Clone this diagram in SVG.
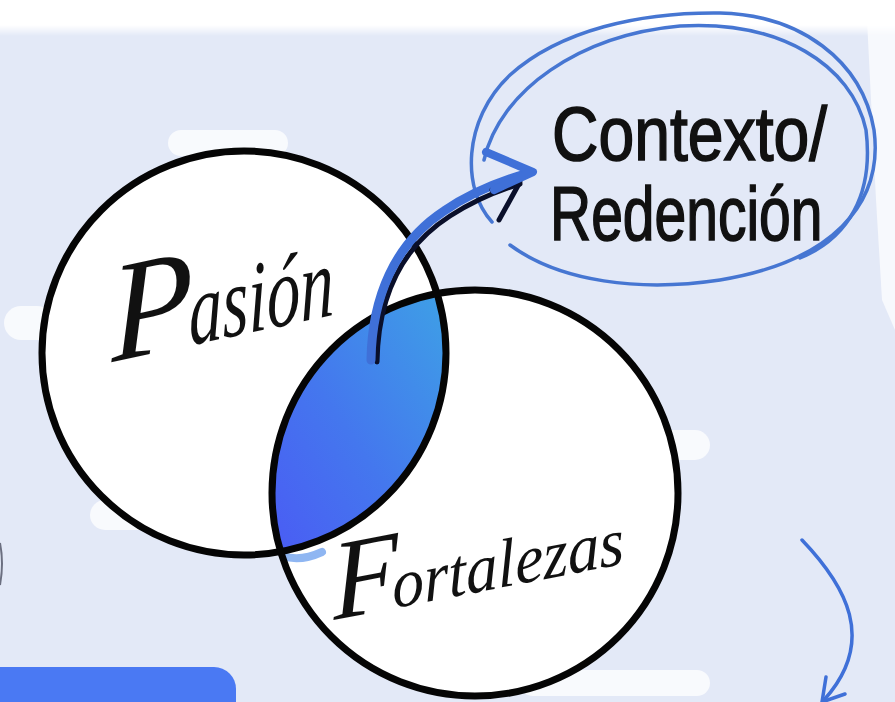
<svg xmlns="http://www.w3.org/2000/svg" width="895" height="702" viewBox="0 0 895 702">
  <defs>
    <linearGradient id="lensGrad" x1="1" y1="0" x2="0" y2="1">
      <stop offset="0" stop-color="#3ea0e6"/>
      <stop offset="0.55" stop-color="#4477ee"/>
      <stop offset="1" stop-color="#4a5cf4"/>
    </linearGradient>
    <linearGradient id="topFade" x1="0" y1="0" x2="0" y2="1">
      <stop offset="0" stop-color="#ffffff"/>
      <stop offset="0.7" stop-color="#ffffff"/>
      <stop offset="1" stop-color="#ffffff" stop-opacity="0"/>
    </linearGradient>
    <style>
      .ring { fill: none; stroke: #050505; stroke-width: 7; }
      .disc { fill: #ffffff; }
      .script { font-family: "Liberation Serif", "DejaVu Serif", serif; font-style: italic; fill: #111111; }
      .label { font-family: "Liberation Sans", Arial, sans-serif; fill: #111111; stroke: #111111; stroke-width: 1.6; font-size: 76px; }
      .loop { fill: none; stroke: #4676d2; stroke-width: 3.5; stroke-linecap: round; }
      .blueArrow { fill: none; stroke: #3f70d8; stroke-linecap: round; stroke-linejoin: round; }
      .shadow { fill: none; stroke: #0a0f2a; stroke-linecap: round; stroke-linejoin: round; }
      .blob { fill: #ffffff; opacity: 0.75; }
    </style>
  </defs>

  <!-- background -->
  <rect x="0" y="0" width="895" height="702" fill="#e3e9f7"/>
  <rect x="0" y="0" width="895" height="36" fill="url(#topFade)"/>
  <polygon points="866,0 895,0 895,330 882,300 876,200" fill="#ffffff" opacity="0.7"/>
  <!-- brush texture blobs -->
  <rect class="blob" x="4" y="306" width="50" height="34" rx="17"/>
  <rect class="blob" x="168" y="130" width="120" height="26" rx="13"/>
  <rect class="blob" x="640" y="430" width="70" height="30" rx="15"/>
  <rect class="blob" x="520" y="670" width="190" height="26" rx="13"/>
  <rect class="blob" x="90" y="500" width="120" height="30" rx="15"/>

  <!-- bottom-left blue bar -->
  <rect x="-30" y="667" width="266" height="70" rx="22" fill="#4a79f3"/>
  <!-- small mark at left edge -->
  <path d="M 0 543 Q 4 563 0 585" fill="none" stroke="#6b6f80" stroke-width="2"/>

  <!-- Node: Pasion -->
  <g id="node-pasion">
    <circle class="disc" cx="244" cy="353" r="202"/>
  </g>
  <!-- Node: Fortalezas -->
  <g id="node-fortalezas">
    <circle class="disc" cx="475" cy="493" r="203"/>
  </g>
  <!-- Intersection -->
  <g id="node-interseccion">
    <path d="M 437.06 293.58 A 202 202 0 0 1 280.66 551.64 A 203 203 0 0 1 437.06 293.58 Z" fill="url(#lensGrad)"/>
    <path d="M 283 556 Q 300 562 322 552" fill="none" stroke="#8fb6f2" stroke-width="8" stroke-linecap="round"/>
  </g>
  <g id="rings">
    <circle class="ring" cx="244" cy="353" r="202"/>
    <circle class="ring" cx="475" cy="493" r="203"/>
  </g>

  <g id="labels-venn">
    <text class="script" font-size="140" transform="translate(112,362) rotate(-12) skewX(-10)">P<tspan font-size="100" dx="-6" textLength="148" lengthAdjust="spacingAndGlyphs">asión</tspan></text>
    <text class="script" font-size="112" transform="translate(334,620) rotate(-11) skewX(-8)">F<tspan font-size="68" dx="-8" textLength="236" lengthAdjust="spacingAndGlyphs">ortalezas</tspan></text>
  </g>

  <!-- Node: Contexto/Redencion -->
  <g id="node-contexto">
    <path class="loop" d="M 492 222 C 462 190, 462 120, 510 75 C 560 30, 640 12, 720 13 C 800 15, 862 60, 874 130 C 884 205, 830 262, 720 280 C 640 292, 560 282, 510 245"/>
    <path class="loop" d="M 484 160 C 500 90, 580 35, 680 26 C 780 20, 852 65, 866 130 C 874 195, 848 238, 800 258"/>
    <text class="label" transform="translate(552,160) scale(0.846,1)">Contexto/</text>
    <text class="label" transform="translate(550,240) scale(0.75,1)">Redención</text>
  </g>

  <!-- Connectors -->
  <g id="connectors">
    <!-- arrow from intersection to Contexto -->
    <path class="shadow" stroke-width="5" d="M 377 362 C 378 300, 400 248, 450 216 C 475 200, 500 190, 520 184"/>
    <path class="blueArrow" stroke-width="9" d="M 371 360 C 372 298, 394 244, 444 211 C 470 193, 498 182, 525 174"/>
    <path class="shadow" stroke-width="5" d="M 492 190 L 520 182 L 499 220"/>
    <path class="blueArrow" stroke-width="8" d="M 486 152 L 533 172 L 494 190" fill="#3f70d8"/>
    <!-- arrow at bottom right -->
    <path class="blueArrow" stroke-width="3.5" d="M 802 540 C 845 585, 878 640, 824 700"/>
    <path class="blueArrow" stroke-width="3.5" d="M 826 677 L 822 702 L 845 694"/>
  </g>
</svg>
